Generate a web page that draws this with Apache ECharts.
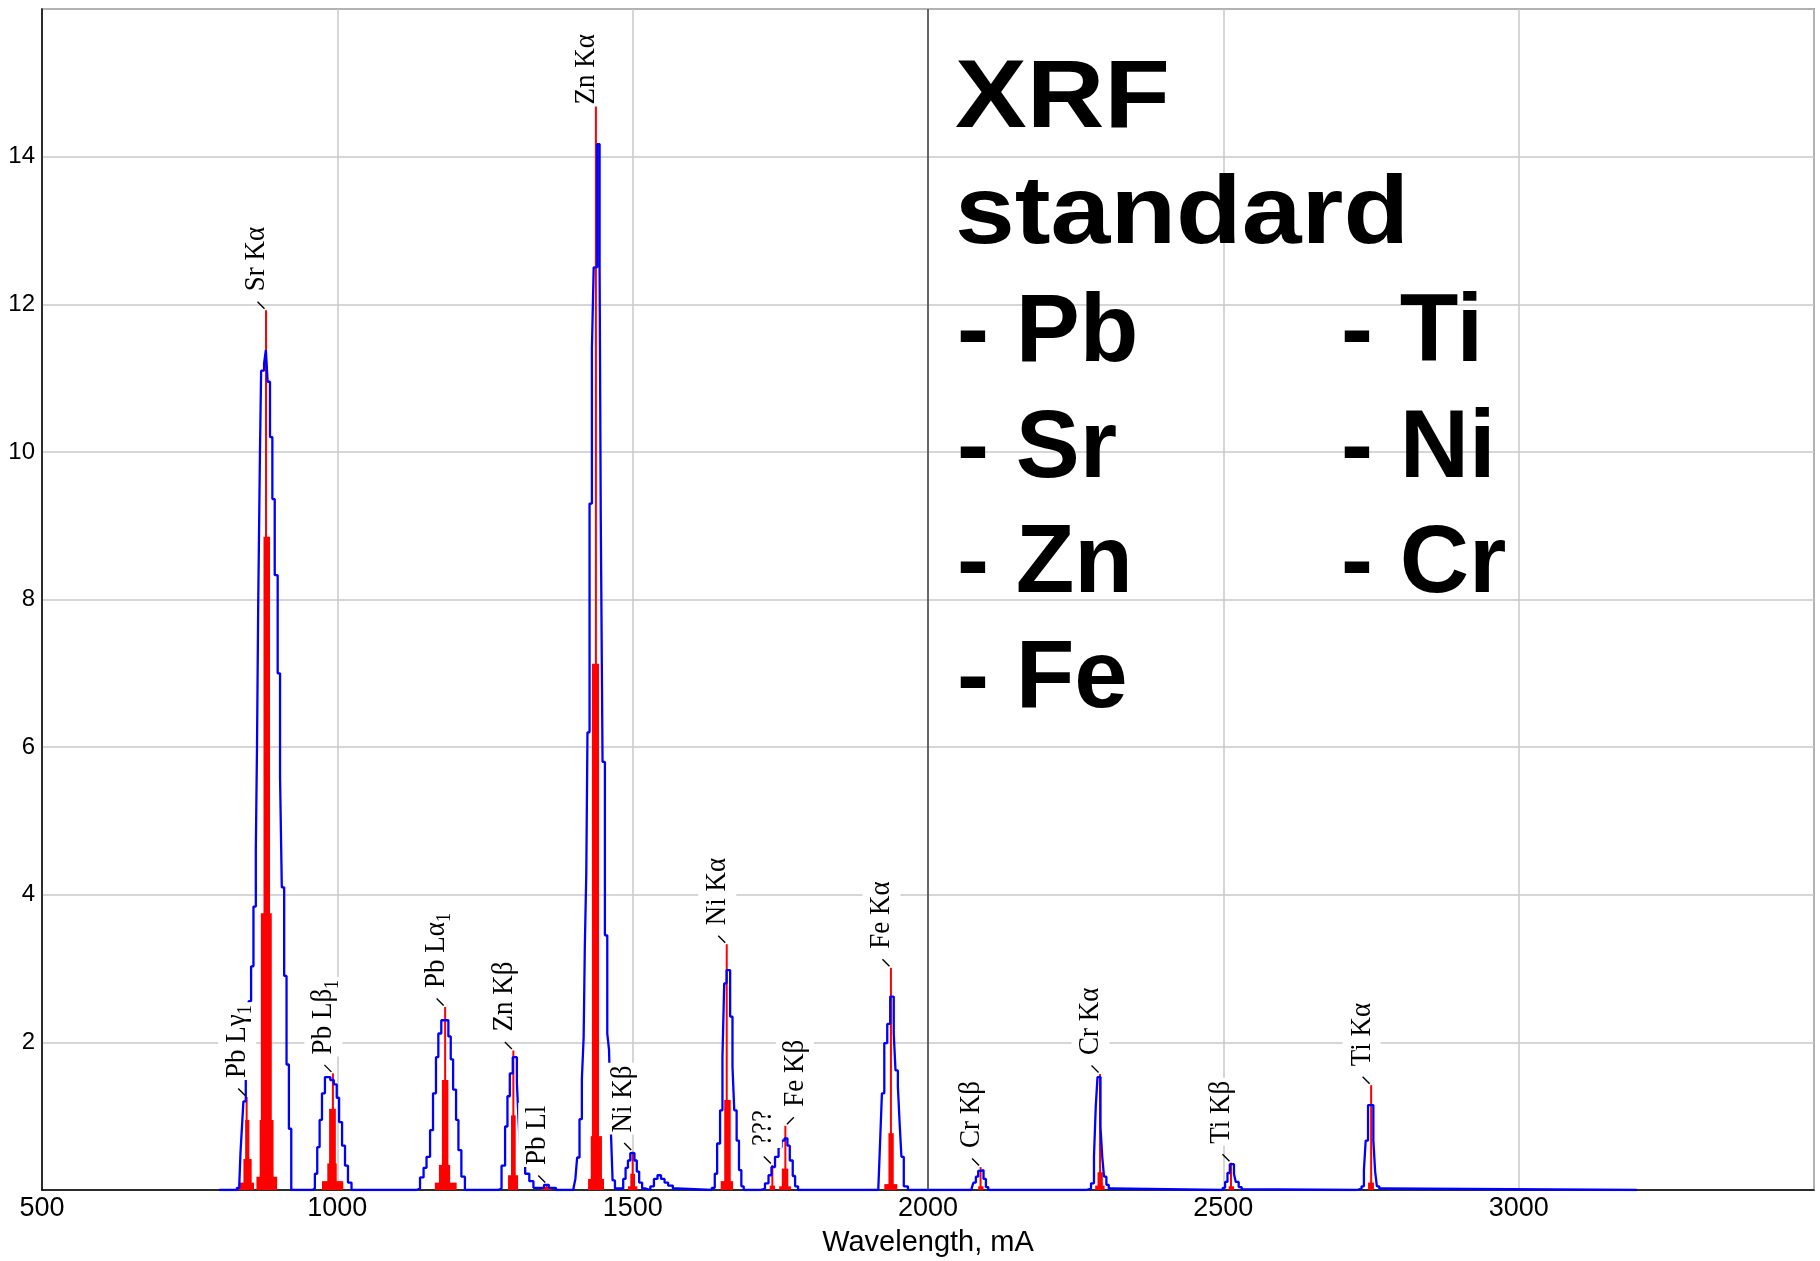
<!DOCTYPE html>
<html><head><meta charset="utf-8">
<script src="https://cdn.jsdelivr.net/npm/echarts@6/dist/echarts.min.js"></script>
<style>html,body{margin:0;padding:0;background:#fff}#c{width:1820px;height:1261px}</style>
</head><body><div id="c"></div>
<script>
// ---- measured spectrum (blue, step histogram): [wavelength mA, intensity]
const blueSrPb = [[830,0.03],[834,0.07],[836,0.5],[839,0.92],[841,1.2],[845,1.55],[847,2.0],[850,2.56],[854,3.03],[858,3.84],[862,4.63],[864,6.0],[866,7.9],[869,10.0],[871,11.1],[876,11.2],[879,11.38],[882,10.95],[886,10.2],[890,9.36],[894,8.33],[899,7.0],[903,5.6],[906,4.1],[910,2.9],[914,1.7],[918,0.83],[922,0]];
const bluePbLb1 = [[958,0.02],[962,0.22],[966,0.58],[970,0.95],[974,1.31],[979,1.53],[988,1.49],[994,1.43],[999,1.25],[1003,0.92],[1008,0.6],[1013,0.33],[1018,0.1],[1024,0]];
const bluePbLa1 = [[1134,0.02],[1140,0.17],[1146,0.3],[1151,0.45],[1157,0.81],[1162,1.31],[1167,1.8],[1171,2.12],[1176,2.3],[1188,2.08],[1192,1.77],[1196,1.36],[1201,0.95],[1205,0.54],[1210,0.18],[1216,0]];
const blueZnKb = [[1272,0.02],[1278,0.33],[1284,0.86],[1288,1.27],[1292,1.58],[1297,1.8],[1304,1.45],[1306.5,1.0],[1309,0.6],[1313,0.35],[1318,0.22],[1325,0.12],[1332,0.03],[1343,0.03],[1350,0.07],[1358,0.03],[1370,0]];
const blueZnKa = [[1400,0.03],[1403,0.15],[1406,0.44],[1410,0.96],[1414,1.5],[1417,2.07],[1419,3.3],[1421.5,4.3],[1423.5,6.2],[1427,9.3],[1431,11.4],[1434,12.5],[1440,14.17],[1444,12.5],[1446,9.1],[1449,5.8],[1453,3.45],[1457,2.12],[1460,1.9],[1463,0.83],[1466,0.13],[1470,0.02],[1476,0]];
const blueNiKb = [[1478,0.02],[1484,0.15],[1488,0.3],[1492,0.4],[1496,0.5],[1503,0.4],[1507,0.25],[1511,0.1],[1516,0.02],[1522,0],[1530,0.05],[1536,0.15],[1542,0.2],[1548,0.15],[1554,0.1],[1560,0.06],[1568,0.02],[1575,0]];
const blueNiKa = [[1634,0.03],[1639,0.22],[1643,0.63],[1648,1.08],[1652,1.8],[1655,2.8],[1659,2.98],[1665,2.35],[1669,1.67],[1672,1.08],[1676,0.67],[1680,0.27],[1684,0.05],[1688,0]];
const blueFeKb = [[1716,0.02],[1724,0.09],[1730,0.2],[1735,0.31],[1741,0.45],[1747,0.58],[1752,0.67],[1757,0.7],[1762,0.6],[1766,0.4],[1771,0.19],[1775,0.05],[1780,0]];
const blueFeKa = [[1916,0.04],[1919,0.67],[1922,1.31],[1926,1.99],[1931,2.25],[1936,2.62],[1942,2.12],[1945,1.62],[1949,1.4],[1952,0.9],[1955,0.45],[1959,0.05],[1966,0]];
const blueCrKb = [[2074,0.03],[2077,0.1],[2081,0.18],[2085,0.26],[2090,0.27],[2094,0.15],[2098,0.04],[2102,0]];
const blueCrKa = [[2268,0.02],[2276,0.09],[2281,0.45],[2284,1.13],[2287,1.53],[2292,0.85],[2295,0.45],[2298,0.18],[2302,0.07],[2306,0.02],[2311,0]];
const blueTiKb = [[2499,0.03],[2503,0.11],[2507,0.23],[2511,0.35],[2518,0.22],[2521,0.11],[2526,0.04],[2531,0.01],[2534,0]];
const blueTiKa = [[2726,0.02],[2734,0.05],[2738,0.27],[2741,0.67],[2745,1.15],[2754,0.67],[2757,0.25],[2760,0.05],[2764,0.02],[2770,0]];
const blueStart = [[800,0]];
const blueEnd = [[3200,0]];

// ---- fitted lines (red): [from mA, to mA, intensity]; first item = line peak
const redPbLg1 = [[845.5,847.5,1.26],[844,851,0.95],[841,855,0.42],[833,859,0.1]];
const redSrKa  = [[878,880.5,11.92],[875,886,8.85],[870.5,889,3.75],[868.5,892,0.95],[863,898,0.18]];
const redPbLb1 = [[991.5,993.5,1.58],[986,997.5,1.10],[983,999,0.36],[974,1010,0.12]];
const redPbLa1 = [[1181.5,1183.5,2.48],[1177,1188,1.49],[1172,1191,0.34],[1165,1202,0.1]];
const redZnKb  = [[1297,1299,1.89],[1294,1302,1.01],[1289,1306,0.2]];
const redPbLl  = [[1353.5,1355.5,0.08],[1346,1363,0.04]];
const redZnKa  = [[1436.5,1439,14.69],[1431,1443,7.13],[1429,1448,0.73],[1424.5,1451.5,0.15]];
const redNiKb  = [[1499,1501,0.52],[1496,1504,0.22],[1492,1508,0.05]];
const redNiKa  = [[1658,1660.5,3.33],[1655,1666,1.22],[1649,1670,0.12]];
const redUnk   = [[1735.5,1737.5,0.34],[1732,1741,0.06]];
const redFeKb  = [[1757.5,1759.5,0.87],[1752.5,1763.5,0.29],[1748,1768,0.05]];
const redFeKa  = [[1936,1938.5,3.01],[1933,1942,0.77],[1926,1948,0.08]];
const redCrKb  = [[2088,2090,0.31],[2085,2094,0.05]];
const redCrKa  = [[2290,2292.5,1.57],[2287,2296,0.24],[2283,2299,0.06]];
const redTiKb  = [[2512,2514,0.37],[2509,2518,0.05]];
const redTiKa  = [[2749,2751.5,1.42],[2745,2755,0.1]];

// ---- peak labels (same order as red lines)
const labelBase  = ['Pb L','Sr K','Pb L','Pb L','Zn K','Pb Ll','Zn K','Ni K','Ni K','???','Fe K','Fe K','Cr K','Cr K','Ti K','Ti K'];
const labelGreek = ['γ','α','β','α','β','','α','β','α','','β','α','β','α','β','α'];
const labelSub   = ['1','','1','1','','','','','','','','','','','',''];

// ---- axis ticks and annotation text
const xTicks = [500,1000,1500,2000,2500,3000];
const yTicks = [2,4,6,8,10,12,14];
const titleLines = ['XRF','standard'];
const elemLeft = ['- Pb','- Sr','- Zn','- Fe'];
const elemRight = ['- Ti','- Ni','- Cr'];

const redPeaks = [redPbLg1,redSrKa,redPbLb1,redPbLa1,redZnKb,redPbLl,redZnKa,redNiKb,redNiKa,redUnk,redFeKb,redFeKa,redCrKb,redCrKa,redTiKb,redTiKa];
const blueData = [].concat(blueStart,blueSrPb,bluePbLb1,bluePbLa1,blueZnKb,blueZnKa,blueNiKb,blueNiKa,blueFeKb,blueFeKa,blueCrKb,blueCrKa,blueTiKb,blueTiKa,blueEnd);
const redData = [];
redPeaks.forEach(p => p.forEach(r => redData.push(r)));
const labelData = redPeaks.map((p,i) => [(p[0][0]+p[0][1])/2, p[0][2], i]);

const SERIF = '"Liberation Serif", "Times New Roman", serif';
const LFS = 27, SFS = 18;
const mctx = document.createElement('canvas').getContext('2d');
function labelLen(i) {
  mctx.font = LFS + 'px ' + SERIF;
  let w = mctx.measureText(labelBase[i] + labelGreek[i]).width;
  if (labelSub[i]) { mctx.font = SFS + 'px ' + SERIF; w += mctx.measureText(labelSub[i]).width; }
  return w + 5;
}
// simple collision layout: label sits up-left of its line, flips to up-right if it would hit the previous one
function layoutLabels(api) {
  const out = [];
  labelData.forEach((d, i) => {
    const p = api.coord([d[0], d[1]]);
    const len = labelLen(i);
    let y0 = Math.max(p[1] - 17, 31 + len);
    let side = -1;
    const cx = p[0] - 9.5;
    if (i > 0) {
      const q = out[i-1];
      const overlapX = Math.abs(cx - q.cx) < 28;
      const overlapY = !(y0 < q.y1 - 12 || y0 - len > q.y0 + 12);
      if (overlapX && overlapY) side = 1;
    }
    const c = side < 0 ? cx : p[0] + 9.5;
    out.push({p:p, side:side, cx:c, y0:y0, y1:y0 - len, len:len});
  });
  return out;
}

const chart = echarts.init(document.getElementById('c'), null, {renderer:'canvas'});

const graphics = [];
const bigFont = 'bold 96px "Liberation Sans", Arial, sans-serif';
const lineY = [100.6, 217, 334.8, 450.3, 565.6, 680.6];
titleLines.forEach((t,i) => graphics.push({type:'text', x:955, y:lineY[i], scaleX:1.12, z:100,
  style:{text:t, font:bigFont, fill:'#000', align:'left', verticalAlign:'middle'}}));
elemLeft.forEach((t,i) => graphics.push({type:'text', x:957, y:lineY[i+2], z:100,
  style:{text:t, font:bigFont, fill:'#000', align:'left', verticalAlign:'middle'}}));
elemRight.forEach((t,i) => graphics.push({type:'text', x:1341, y:lineY[i+2], z:100,
  style:{text:t, font:bigFont, fill:'#000', align:'left', verticalAlign:'middle'}}));

let layoutCache = null;
const option = {
  animation: false,
  backgroundColor: '#fff',
  grid: {left:42, right:6, top:9, bottom:71, show:true, borderColor:'#444', borderWidth:1.5, backgroundColor:'#fff', outerBoundsMode:'none'},
  xAxis: {
    type:'value', min:500, max:3500, interval:500,
    axisLine:{show:true, onZero:false, lineStyle:{color:'#000', width:1.5}},
    axisTick:{show:false},
    axisLabel:{color:'#000', fontSize:27, fontFamily:'"Liberation Sans", Arial', margin:5,
      formatter: v => xTicks.indexOf(v) >= 0 ? String(v) : ''},
    splitLine:{show:true, lineStyle:{color:'#c8c8c8', width:1.5}},
    name:'Wavelength, mA', nameLocation:'middle', nameGap:38,
    nameTextStyle:{color:'#000', fontSize:29, fontFamily:'"Liberation Sans", Arial'}
  },
  yAxis: {
    type:'value', min:0, max:16, interval:2,
    axisLine:{show:true, lineStyle:{color:'#000', width:1.5}},
    axisTick:{show:false},
    axisLabel:{color:'#000', fontSize:24, fontFamily:'"Liberation Sans", Arial', margin:7,
      formatter: v => yTicks.indexOf(v) >= 0 ? String(v) : ''},
    splitLine:{show:true, lineStyle:{color:'#c8c8c8', width:1.5}}
  },
  graphic: graphics,
  series: [
    {type:'line', data:[], z:1, silent:true,
      markLine:{silent:true, symbol:'none', label:{show:false},
        lineStyle:{color:'#404040', width:1.5, type:'solid'}, data:[{xAxis:2000}]}},
    {type:'custom', name:'lines', z:2, silent:true, data:redData, encode:{x:[0,1], y:2},
      renderItem:(params, api) => {
        const a = api.coord([api.value(0), api.value(2)]);
        const b = api.coord([api.value(1), 0]);
        let w = b[0]-a[0], x = a[0];
        if (w < 2) { x = (a[0]+b[0])/2 - 1; w = 2; }
        return {type:'rect', shape:{x:x, y:a[1], width:w, height:b[1]-a[1]}, style:{fill:'#ff0000'}};
      }},
    {type:'line', name:'spectrum', z:3, silent:true, data:blueData, step:'end', showSymbol:false,
      lineStyle:{color:'#0000ff', width:2.3}},
    {type:'custom', name:'labels', z:5, silent:true, data:labelData, encode:{x:0, y:1},
      renderItem:(params, api) => {
        if (params.dataIndexInside === 0 || !layoutCache) layoutCache = layoutLabels(api);
        const i = api.value(2);
        const L = layoutCache[i];
        const p = L.p, s = L.side;
        let txt = '{n|' + labelBase[i] + '}';
        if (labelGreek[i]) txt += '{n|' + labelGreek[i] + '}';
        if (labelSub[i]) txt += '{s|' + labelSub[i] + '}';
        return {type:'group', children:[
          {type:'line', shape:{x1:p[0]+1.5*s, y1:p[1]-1.5, x2:p[0]+8.5*s, y2:p[1]-8.5}, style:{stroke:'#000', lineWidth:1.4}},
          {type:'text', x:L.cx, y:L.y0, rotation:Math.PI/2, scaleY:1.12,
            style:{text:txt, align:'left', verticalAlign:'middle', backgroundColor:'#fff', padding:[0,3,0,2],
              rich:{
                n:{fontFamily:SERIF, fontSize:LFS, lineHeight:34, fill:'#000', color:'#000'},
                s:{fontFamily:SERIF, fontSize:SFS, lineHeight:20, verticalAlign:'bottom', fill:'#000', color:'#000'}
              }}}
        ]};
      }}
  ]
};
chart.setOption(option);
</script></body></html>
